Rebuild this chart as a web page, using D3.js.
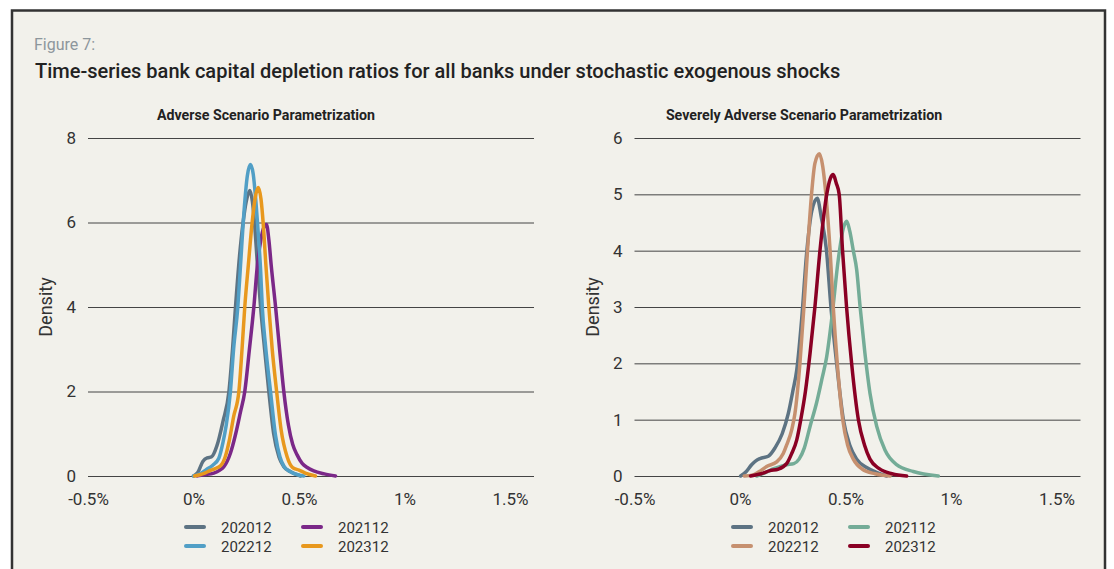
<!DOCTYPE html>
<html>
<head>
<meta charset="utf-8">
<script src="https://cdn.jsdelivr.net/npm/d3@7"></script>
<style>
  body { margin: 0; background: #fff; }
  svg { display: block; font-family: Roboto, 'Noto Sans', sans-serif; }
</style>
</head>
<body>
<svg class="chart"></svg>
<script>
//Chart data (x = depletion ratio in %, y = density)
const seriesNames = ['202012', '202112', '202212', '202312'];
const xTicks = [-0.5, 0, 0.5, 1, 1.5];
const adverseYTicks = [0, 2, 4, 6, 8];
const severeYTicks = [0, 1, 2, 3, 4, 5, 6];

const adverse202012 = [[0, 0], [0.02, 0.08], [0.045, 0.35], [0.065, 0.43], [0.085, 0.45], [0.11, 0.7], [0.14, 1.3], [0.168, 2], [0.185, 3], [0.199, 4], [0.218, 5.2], [0.235, 6], [0.25, 6.5], [0.267, 6.76], [0.279, 6.5], [0.289, 6], [0.303, 5], [0.318, 4], [0.337, 3], [0.357, 2], [0.38, 1], [0.405, 0.45], [0.428, 0.22], [0.46, 0.1], [0.507, 0]];
const adverse202112 = [[0.017, 0], [0.05, 0.03], [0.096, 0.07], [0.125, 0.14], [0.144, 0.22], [0.175, 0.54], [0.2, 1], [0.222, 1.5], [0.243, 2], [0.265, 3], [0.286, 4], [0.303, 5], [0.318, 5.55], [0.333, 5.88], [0.346, 5.95], [0.357, 5.6], [0.368, 5], [0.389, 4], [0.408, 3], [0.428, 2], [0.45, 1.2], [0.47, 0.75], [0.491, 0.5], [0.515, 0.3], [0.539, 0.2], [0.57, 0.12], [0.62, 0.05], [0.673, 0]];
const adverse202212 = [[0, 0], [0.03, 0.05], [0.06, 0.15], [0.09, 0.25], [0.12, 0.42], [0.14, 0.8], [0.155, 1.2], [0.175, 2], [0.19, 3], [0.21, 4], [0.223, 5], [0.24, 6.3], [0.255, 7.1], [0.27, 7.37], [0.283, 7.15], [0.294, 6.6], [0.306, 5.8], [0.318, 4.88], [0.326, 4], [0.341, 3.1], [0.365, 2], [0.389, 0.95], [0.41, 0.45], [0.43, 0.22], [0.46, 0.1], [0.523, 0]];
const adverse202312 = [[0.005, 0], [0.03, 0.03], [0.05, 0.06], [0.075, 0.12], [0.1, 0.17], [0.128, 0.24], [0.15, 0.45], [0.17, 0.85], [0.19, 1.4], [0.215, 2], [0.23, 3], [0.243, 4], [0.26, 5], [0.278, 6], [0.293, 6.6], [0.307, 6.83], [0.32, 6.55], [0.33, 6], [0.343, 5], [0.357, 4], [0.373, 3], [0.394, 2], [0.415, 1.1], [0.444, 0.45], [0.47, 0.2], [0.5, 0.14], [0.53, 0.07], [0.578, 0]];

const severe202012 = [[0.003, 0], [0.03, 0.08], [0.055, 0.2], [0.075, 0.27], [0.095, 0.31], [0.134, 0.35], [0.166, 0.5], [0.2, 0.75], [0.229, 1.11], [0.25, 1.5], [0.269, 1.88], [0.292, 2.77], [0.316, 3.96], [0.34, 4.7], [0.366, 4.93], [0.385, 4.6], [0.41, 4], [0.431, 3], [0.458, 2], [0.49, 1], [0.52, 0.55], [0.553, 0.3], [0.6, 0.15], [0.65, 0.06], [0.695, 0]];
const severe202112 = [[0.079, 0], [0.12, 0.06], [0.16, 0.13], [0.2, 0.18], [0.221, 0.2], [0.255, 0.22], [0.28, 0.3], [0.305, 0.5], [0.332, 0.88], [0.363, 1.3], [0.39, 1.75], [0.41, 2.1], [0.435, 2.8], [0.466, 3.85], [0.49, 4.4], [0.506, 4.52], [0.52, 4.35], [0.537, 4], [0.553, 3.66], [0.569, 3.01], [0.592, 2.18], [0.616, 1.47], [0.648, 0.88], [0.687, 0.46], [0.742, 0.2], [0.821, 0.08], [0.94, 0]];
const severe202212 = [[0.02, 0], [0.063, 0.02], [0.1, 0.1], [0.126, 0.17], [0.174, 0.25], [0.205, 0.4], [0.221, 0.55], [0.245, 0.82], [0.26, 1.1], [0.284, 2], [0.303, 3], [0.32, 4], [0.339, 5], [0.355, 5.55], [0.376, 5.72], [0.392, 5.5], [0.407, 5], [0.427, 4], [0.442, 3], [0.461, 2], [0.487, 1], [0.51, 0.55], [0.537, 0.3], [0.58, 0.12], [0.64, 0.04], [0.711, 0]];
const severe202312 = [[0.05, 0], [0.1, 0.04], [0.142, 0.095], [0.18, 0.12], [0.221, 0.22], [0.245, 0.4], [0.269, 0.64], [0.288, 1], [0.31, 1.5], [0.332, 2.18], [0.355, 3], [0.379, 4], [0.411, 5], [0.428, 5.28], [0.442, 5.35], [0.456, 5.2], [0.47, 5], [0.486, 4], [0.505, 3], [0.529, 2], [0.561, 1], [0.59, 0.55], [0.616, 0.3], [0.66, 0.13], [0.72, 0.04], [0.79, 0]];

//Styling
const width = 1114;
const height = 569;
const bg = '#f2f1eb';
const adverseColors = ['#5d7383', '#7b2888', '#519fc6', '#e8981d'];
const severeColors = ['#5d7383', '#74ac97', '#c6906f', '#8a0024'];

const svg = d3.select('.chart')
  .attr('width', width)
  .attr('height', height);

//Frame
svg.append('rect')
  .attr('x', 12)
  .attr('y', 10.5)
  .attr('width', 1093)
  .attr('height', 600)
  .attr('fill', bg)
  .attr('stroke', '#333')
  .attr('stroke-width', 2.5);

svg.append('text')
  .attr('x', 34)
  .attr('y', 50)
  .attr('font-size', 16)
  .attr('fill', '#8d969c')
  .text('Figure 7:');

svg.append('text')
  .attr('x', 35)
  .attr('y', 78)
  .attr('font-size', 20)
  .attr('font-weight', 500)
  .attr('fill', '#222')
  .text('Time-series bank capital depletion ratios for all banks under stochastic exogenous shocks');

const panels = [
  {
    title: 'Adverse Scenario Parametrization',
    titleX: 266,
    left: 88,
    right: 534,
    yMax: 8,
    yTicks: adverseYTicks,
    labelX: 52,
    data: [adverse202012, adverse202112, adverse202212, adverse202312],
    colors: adverseColors,
    legendX: 184
  },
  {
    title: 'Severely Adverse Scenario Parametrization',
    titleX: 804,
    left: 634.5,
    right: 1080.5,
    yMax: 6,
    yTicks: severeYTicks,
    labelX: 599,
    data: [severe202012, severe202112, severe202212, severe202312],
    colors: severeColors,
    legendX: 731
  }
];

panels.forEach(drawPanel);

function drawPanel(p) {
  const top = 138;
  const bottom = 476;

  const x = d3.scaleLinear()
    .domain([-0.5, -0.5 + (p.right - p.left) / 211])
    .range([p.left, p.right]);
  const y = d3.scaleLinear()
    .domain([0, p.yMax])
    .range([bottom, top]);

  const g = svg.append('g');

  g.append('text')
    .attr('x', p.titleX)
    .attr('y', 120)
    .attr('text-anchor', 'middle')
    .attr('font-size', 14.2)
    .attr('font-weight', 'bold')
    .attr('fill', '#222')
    .text(p.title);

  //Y axis with gridlines
  const yAxis = g.append('g')
    .attr('transform', `translate(${p.left},0)`)
    .call(d3.axisLeft(y)
      .tickValues(p.yTicks)
      .tickSize(-(p.right - p.left))
      .tickPadding(12)
      .tickFormat(d => d));
  yAxis.select('.domain').remove();
  yAxis.selectAll('line').attr('stroke', '#444');
  yAxis.selectAll('text')
    .attr('font-size', 17)
    .attr('fill', '#333')
    .attr('font-family', 'Roboto, sans-serif');

  //X axis
  const xAxis = g.append('g')
    .attr('transform', `translate(0,${bottom})`)
    .call(d3.axisBottom(x)
      .tickValues(xTicks)
      .tickSize(0)
      .tickPadding(17)
      .tickFormat(d => `${d}%`));
  xAxis.select('.domain').remove();
  xAxis.selectAll('text')
    .attr('font-size', 17)
    .attr('fill', '#333')
    .attr('font-family', 'Roboto, sans-serif');

  g.append('text')
    .attr('transform', `translate(${p.labelX},${(top + bottom) / 2}) rotate(-90)`)
    .attr('text-anchor', 'middle')
    .attr('font-size', 18)
    .attr('fill', '#333')
    .text('Density');

  //Density curves
  const line = d3.line()
    .x(d => x(d[0]))
    .y(d => y(d[1]))
    .curve(d3.curveMonotoneX);

  g.selectAll('path.curve')
    .data(p.data)
    .enter()
    .append('path')
    .attr('class', 'curve')
    .attr('d', line)
    .attr('fill', 'none')
    .attr('stroke', (d, i) => p.colors[i])
    .attr('stroke-width', 3.5)
    .attr('stroke-linejoin', 'round')
    .attr('stroke-linecap', 'round');

  //Legend, two columns
  const legend = g.selectAll('g.legend')
    .data(seriesNames)
    .enter()
    .append('g')
    .attr('class', 'legend')
    .attr('transform', (d, i) => {
      const col = i % 2;
      const row = Math.floor(i / 2);
      return `translate(${p.legendX + col * 117},${527 + row * 19})`;
    });

  legend.append('line')
    .attr('x1', 2)
    .attr('x2', 20)
    .attr('stroke', (d, i) => p.colors[seriesNames.indexOf(d)])
    .attr('stroke-width', 4)
    .attr('stroke-linecap', 'round');

  legend.append('text')
    .attr('x', 37)
    .attr('y', 6)
    .attr('font-size', 15)
    .attr('fill', '#333')
    .text(d => d);
}
</script>
</body>
</html>
